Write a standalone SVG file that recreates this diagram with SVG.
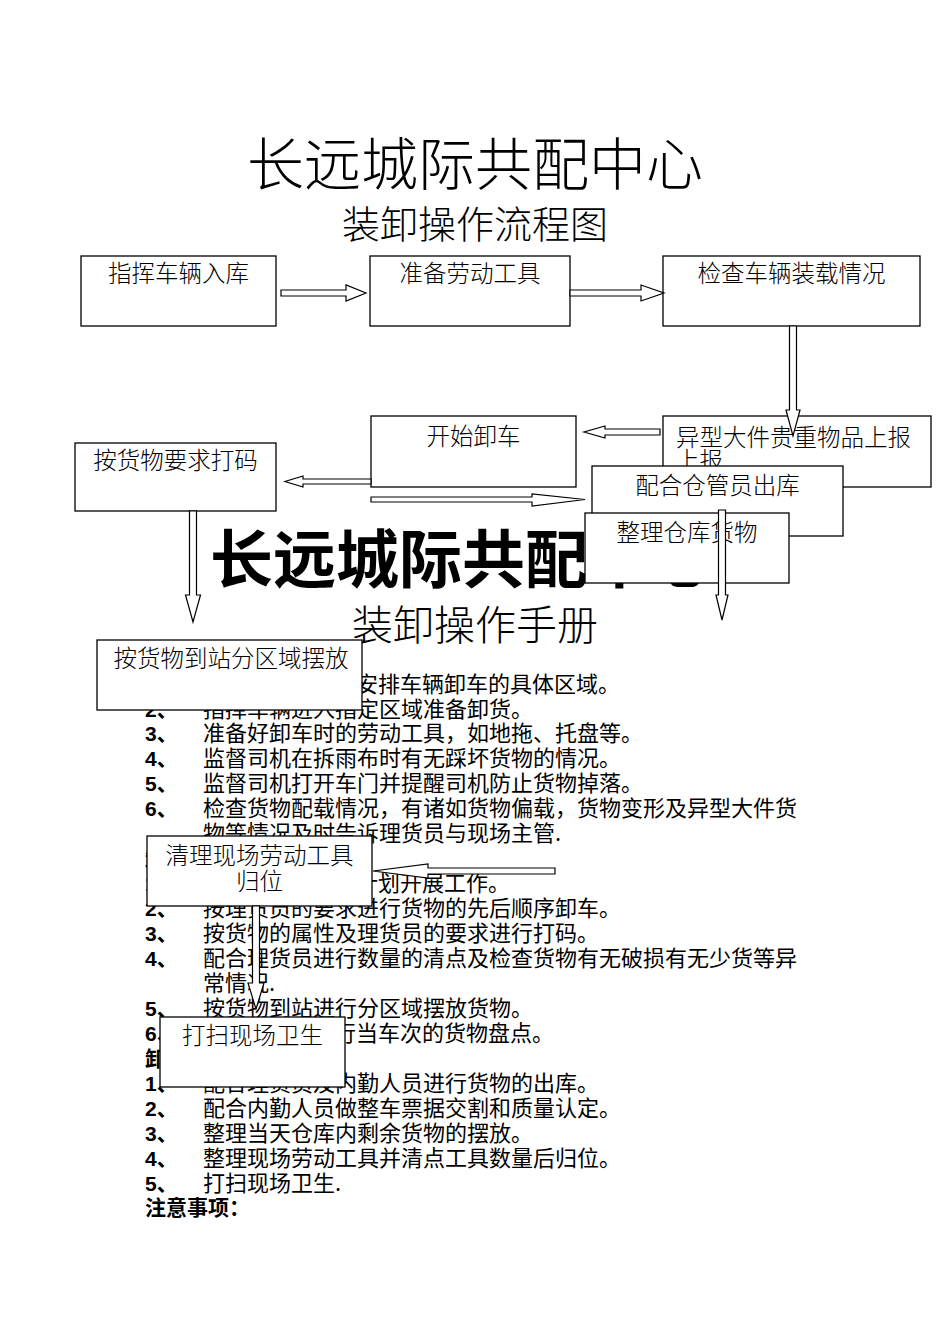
<svg xmlns="http://www.w3.org/2000/svg" width="950" height="1344" viewBox="0 0 950 1344">
<style>
.cjk{font-family:"Noto Sans CJK SC","Liberation Sans",sans-serif;fill:#000}
.t1{font-size:57px;font-weight:300}
.t2{font-size:38px;font-weight:300}
.t3{font-size:63px;font-weight:bold}
.t4{font-size:41px;font-weight:300}
.body{font-size:22px}
.num{font-family:"Liberation Sans","Noto Sans CJK SC",sans-serif;font-size:21px;font-weight:bold;fill:#000}
.hd{font-size:21px;font-weight:bold}
.box{fill:#fff;stroke:#000;stroke-width:1.3}
.bt{font-family:"Noto Sans CJK SC","Liberation Sans",sans-serif;font-size:23.5px;font-weight:300;fill:#000}
.arrow{fill:#fff;stroke:#000;stroke-width:1.2;stroke-linejoin:miter}
</style>
<rect width="950" height="1344" fill="#fff"/>
<g id="titles">
<text class="cjk t1" x="475" y="185" text-anchor="middle">长远城际共配中心</text>
<text class="cjk t2" x="475" y="238" text-anchor="middle">装卸操作流程图</text>
<text class="cjk t3" x="210" y="582">长远城际共配中心</text>
<text class="cjk t4" x="475" y="640" text-anchor="middle">装卸操作手册</text>
</g>
<g id="manual">
<text class="cjk body" x="356" y="691.5">安排车辆卸车的具体区域。</text>
<text class="num" x="145" y="716.5">2、</text><text class="cjk body" x="203" y="716.5">指挥车辆进入指定区域准备卸货。</text>
<text class="num" x="145" y="741.4">3、</text><text class="cjk body" x="203" y="741.4">准备好卸车时的劳动工具，如地拖、托盘等。</text>
<text class="num" x="145" y="766.4">4、</text><text class="cjk body" x="203" y="766.4">监督司机在拆雨布时有无踩坏货物的情况。</text>
<text class="num" x="145" y="791.3">5、</text><text class="cjk body" x="203" y="791.3">监督司机打开车门并提醒司机防止货物掉落。</text>
<text class="num" x="145" y="816.3">6、</text><text class="cjk body" x="203" y="816.3">检查货物配载情况，有诸如货物偏载，货物变形及异型大件货</text>
<text class="cjk body" x="203" y="841.2">物等情况及时告诉理货员与现场主管.</text>
<text class="cjk hd" x="145" y="866.2">卸车中：</text>
<text class="num" x="145" y="891.1">1、</text><text class="cjk body" x="356" y="891.1">计划开展工作。</text>
<text class="num" x="145" y="916">2、</text><text class="cjk body" x="203" y="916">按理货员的要求进行货物的先后顺序卸车。</text>
<text class="num" x="145" y="941">3、</text><text class="cjk body" x="203" y="941">按货物的属性及理货员的要求进行打码。</text>
<text class="num" x="145" y="966">4、</text><text class="cjk body" x="203" y="966">配合理货员进行数量的清点及检查货物有无破损有无少货等异</text>
<text class="cjk body" x="203" y="990.9">常情况.</text>
<text class="num" x="145" y="1015.9">5、</text><text class="cjk body" x="203" y="1015.9">按货物到站进行分区域摆放货物。</text>
<text class="num" x="145" y="1040.8">6、</text><text class="cjk body" x="334" y="1040.8">行当车次的货物盘点。</text>
<text class="cjk hd" x="145" y="1065.8">卸车后：</text>
<text class="num" x="145" y="1090.7">1、</text><text class="cjk body" x="203" y="1090.7">配合理货员及内勤人员进行货物的出库。</text>
<text class="num" x="145" y="1115.6">2、</text><text class="cjk body" x="203" y="1115.6">配合内勤人员做整车票据交割和质量认定。</text>
<text class="num" x="145" y="1140.6">3、</text><text class="cjk body" x="203" y="1140.6">整理当天仓库内剩余货物的摆放。</text>
<text class="num" x="145" y="1165.5">4、</text><text class="cjk body" x="203" y="1165.5">整理现场劳动工具并清点工具数量后归位。</text>
<text class="num" x="145" y="1190.5">5、</text><text class="cjk body" x="203" y="1190.5">打扫现场卫生.</text>
<text class="cjk hd" x="145" y="1215.4">注意事项：</text>
</g>
<g id="n1"><rect class="box" x="81" y="256" width="195" height="70"/><text class="bt" x="178.5" y="282" text-anchor="middle">指挥车辆入库</text></g>
<g id="n2"><rect class="box" x="370" y="256" width="200" height="70"/><text class="bt" x="470" y="282" text-anchor="middle">准备劳动工具</text></g>
<g id="n3"><rect class="box" x="663" y="256" width="257" height="70"/><text class="bt" x="791.5" y="282" text-anchor="middle">检查车辆装载情况</text></g>
<g id="n4"><rect class="box" x="371" y="416" width="205" height="71"/><text class="bt" x="473.5" y="445" text-anchor="middle">开始卸车</text></g>
<g id="n5"><rect class="box" x="663" y="416" width="268" height="71"/><text class="bt" x="676" y="446">异型大件贵重物品上报</text><text class="bt" x="676" y="469">上报</text></g>
<g id="n6"><rect class="box" x="75" y="443" width="201" height="68"/><text class="bt" x="175.5" y="469" text-anchor="middle">按货物要求打码</text></g>
<g id="n7"><rect class="box" x="592" y="466" width="251" height="70"/><text class="bt" x="717.5" y="494" text-anchor="middle">配合仓管员出库</text></g>
<g id="n8"><rect class="box" x="585" y="513" width="204" height="70"/><text class="bt" x="687" y="541" text-anchor="middle">整理仓库货物</text></g>
<g id="n9"><rect class="box" x="97" y="640" width="265" height="70"/><text class="bt" x="231" y="667" text-anchor="middle">按货物到站分区域摆放</text></g>
<g id="n10"><rect class="box" x="147" y="836" width="225" height="70"/><text class="bt" x="259.5" y="864" text-anchor="middle">清理现场劳动工具</text><text class="bt" x="259.5" y="890" text-anchor="middle">归位</text></g>
<g id="n11"><rect class="box" x="160" y="1017" width="185" height="70"/><text class="bt" x="252.5" y="1044" text-anchor="middle">打扫现场卫生</text></g>
<g id="connectors">
<polygon class="arrow" points="281,290 346,290 346,285 366,293 346,301 346,296 281,296"/>
<polygon class="arrow" points="570,290 641,290 641,285 664,293 641,301 641,296 570,296"/>
<polygon class="arrow" points="789.5,326 796.5,326 796.5,410 800,410 793,436 786,410 789.5,410"/>
<polygon class="arrow" points="660,429 605,429 605,426 584,432 605,438 605,435 660,435"/>
<polygon class="arrow" points="371,479 303,479 303,476 285,481.5 303,487 303,484 371,484"/>
<polygon class="arrow" points="371,497 532,497 532,494 585,499.5 532,506 532,502 371,502"/>
<polygon class="arrow" points="189.5,511 196.5,511 196.5,595 200.5,595 193,622 185.5,595 189.5,595"/>
<polygon class="arrow" points="718.5,510 725.5,510 725.5,595 728,595 722,620 716,595 718.5,595"/>
<polygon class="arrow" points="555,868 428,868 428,864 373,871 428,878 428,874 555,874"/>
<polygon class="arrow" points="252.5,906 259.5,906 259.5,983 264,983 256,1009 248,983 252.5,983"/>
</g>
</svg>
